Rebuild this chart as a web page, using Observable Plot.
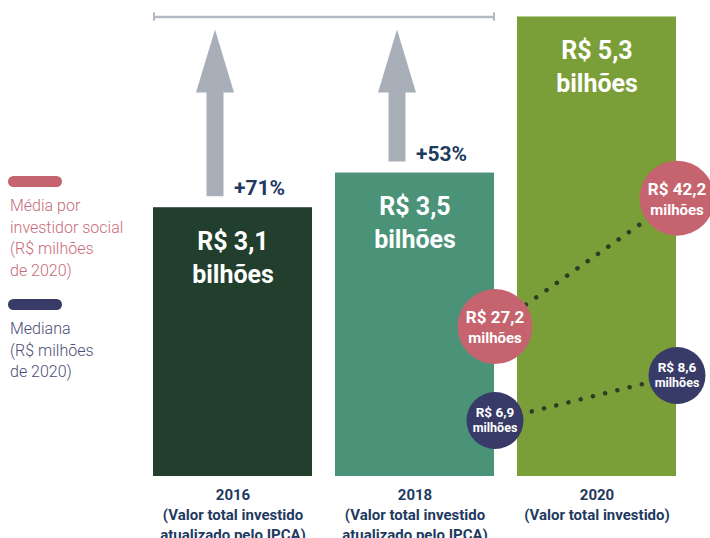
<!DOCTYPE html>
<html>
<head>
<meta charset="utf-8">
<script src="https://cdn.jsdelivr.net/npm/d3@7"></script>
<script src="https://cdn.jsdelivr.net/npm/@observablehq/plot@0.6"></script>
<style>
  body { margin: 0; background: #fff; }
  #wrap { position: relative; width: 710px; height: 538px; overflow: hidden; }
  #legend { position: absolute; left: 0; top: 0; font-family: Roboto, sans-serif; font-weight: 300; font-size: 16px; line-height: 21.5px; }
  .sw { position: absolute; left: 8px; width: 54px; height: 11px; border-radius: 6px; }
  .lt { position: absolute; left: 10px; white-space: nowrap; }
</style>
</head>
<body>
<div id="wrap">
  <div id="chart"></div>
  <div id="legend"></div>
</div>
<script>
// ---- data ----
const years = ["2016", "2018", "2020"];
const totals = [3.1, 3.5, 5.3]; // R$ bilhões
const yearLabels = [
  "2016\n(Valor total investido\natualizado pelo IPCA)",
  "2018\n(Valor total investido\natualizado pelo IPCA)",
  "2020\n(Valor total investido)"
];
const growthYears = ["2016", "2018"];
const growthLabels = ["+71%", "+53%"];
const circleYears = ["2018", "2020"];
const meanValues = [27.2, 42.2];   // Média por investidor social (R$ milhões de 2020)
const medianValues = [6.9, 8.6];   // Mediana (R$ milhões de 2020)
const legendLabels = ["Média por\ninvestidor social\n(R$ milhões\nde 2020)", "Mediana\n(R$ milhões\nde 2020)"];

// ---- colours ----
const barColors = ["#213f2c", "#4a9379", "#7b9f38"];
const pink = "#c5646f", navy = "#383a68", textNavy = "#1f3a5f", gray = "#a9afb9";

const bars = years.map((y, i) => ({year: y, total: totals[i], color: barColors[i], label: yearLabels[i]}));
const growth = growthYears.map((y, i) => ({year: y, label: growthLabels[i], total: totals[years.indexOf(y)]}));
const means = circleYears.map((y, i) => ({year: y, v: meanValues[i]}));
const medians = circleYears.map((y, i) => ({year: y, v: medianValues[i]}));
const fmt = v => "R$ " + String(v).replace(".", ",");

// illustrative placement of the circles inside the bar area
const meanPos = d => d.v * 0.0987 - 0.955;
const medianPos = d => d.v * 0.3053 - 1.4606;

const arrowHead = { draw(ctx) { ctx.moveTo(0, -63); ctx.lineTo(19, 0); ctx.lineTo(-19, 0); ctx.closePath(); } };
const cond = "'Liberation Sans Narrow', 'Roboto', sans-serif";
const headTop = totals[2]; // bracket at the 2020 level

const chart = Plot.plot({
  width: 710,
  height: 538,
  marginLeft: 152,
  marginRight: 33,
  marginTop: 0,
  marginBottom: 62,
  style: { fontFamily: cond, background: "#fff", overflow: "visible" },
  x: { domain: years, paddingInner: 0.125, paddingOuter: 0, axis: null },
  y: { domain: [0, 5.49], axis: null },
  marks: [
    Plot.barY(bars, { x: "year", y: "total", fill: "color" }),
    // bracket
    Plot.ruleY([headTop], { x1: () => "2016", x2: () => "2018", stroke: "#b4bac3", strokeWidth: 2.5 }),
    Plot.ruleX(["2016"], { x: d => d, y1: headTop - 0.05, y2: headTop + 0.05, dx: -79, stroke: "#b4bac3", strokeWidth: 2 }),
    Plot.ruleX(["2018"], { x: d => d, y1: headTop - 0.05, y2: headTop + 0.05, dx: 79, stroke: "#b4bac3", strokeWidth: 2 }),
    // arrows
    Plot.ruleX(growth, { x: "year", y1: d => d.total + 0.127, y2: 4.43, dx: -18, stroke: gray, strokeWidth: 17 }),
    Plot.dot(growth, { x: "year", y: () => 4.43, dx: -18, symbol: arrowHead, r: 5, fill: gray, stroke: "none" }),
    Plot.text(growth, { x: "year", y: "total", text: "label", dx: 1, dy: -19, textAnchor: "start", fill: textNavy, fontSize: 21, fontWeight: "bold" }),
    // bar labels
    Plot.text(bars, { x: "year", y: "total", text: d => fmt(d.total) + "\nbilhões", dy: 48, lineAnchor: "middle", lineHeight: 1.33, fill: "#fff", fontSize: 25, fontWeight: "bold" }),
    // x labels
    Plot.text(bars, { x: "year", y: () => 0, text: "label", dy: 9, lineAnchor: "top", lineHeight: 1.33, fill: textNavy, fontSize: 15, fontWeight: "bold" }),
    // dotted connectors
    Plot.line(means, { x: "year", y: meanPos, dx: 80, stroke: "#2f3d24", strokeWidth: 4.5, strokeDasharray: "0.1,12.5", strokeLinecap: "round" }),
    Plot.line(medians, { x: "year", y: medianPos, dx: 80, stroke: "#2f3d24", strokeWidth: 4.5, strokeDasharray: "0.1,12.5", strokeLinecap: "round" }),
    // circles
    Plot.dot(means, { x: "year", y: meanPos, dx: 80, r: 37.5, fill: pink, stroke: "none" }),
    Plot.dot(medians, { x: "year", y: medianPos, dx: 80, r: 28.5, fill: navy, stroke: "none" }),
    Plot.text(means, { x: "year", y: meanPos, text: d => fmt(d.v), dx: 80, dy: -9, fill: "#fff", fontSize: 17, fontWeight: "bold" }),
    Plot.text(means, { x: "year", y: meanPos, text: () => "milhões", dx: 80, dy: 12, fill: "#fff", fontSize: 15, fontWeight: "bold" }),
    Plot.text(medians, { x: "year", y: medianPos, text: d => fmt(d.v), dx: 80, dy: -8, fill: "#fff", fontSize: 13.5, fontWeight: "bold" }),
    Plot.text(medians, { x: "year", y: medianPos, text: () => "milhões", dx: 80, dy: 8, fill: "#fff", fontSize: 12.5, fontWeight: "bold" })
  ]
});
document.getElementById("chart").appendChild(chart);

// legend
const legend = document.getElementById("legend");
const legendItems = [
  { color: pink, text: legendLabels[0], textColor: "#c86b78", top: 176 },
  { color: navy, text: legendLabels[1], textColor: "#4a4d75", top: 299 }
];
legendItems.forEach(it => {
  const sw = document.createElement("div");
  sw.className = "sw";
  sw.style.top = it.top + "px";
  sw.style.background = it.color;
  legend.appendChild(sw);
  it.text.split("\n").forEach((line, j) => {
    const t = document.createElement("div");
    t.className = "lt";
    t.style.top = (it.top + 19 + j * 21.7) + "px";
    t.style.color = it.textColor;
    t.textContent = line;
    legend.appendChild(t);
  });
});
</script>
</body>
</html>
